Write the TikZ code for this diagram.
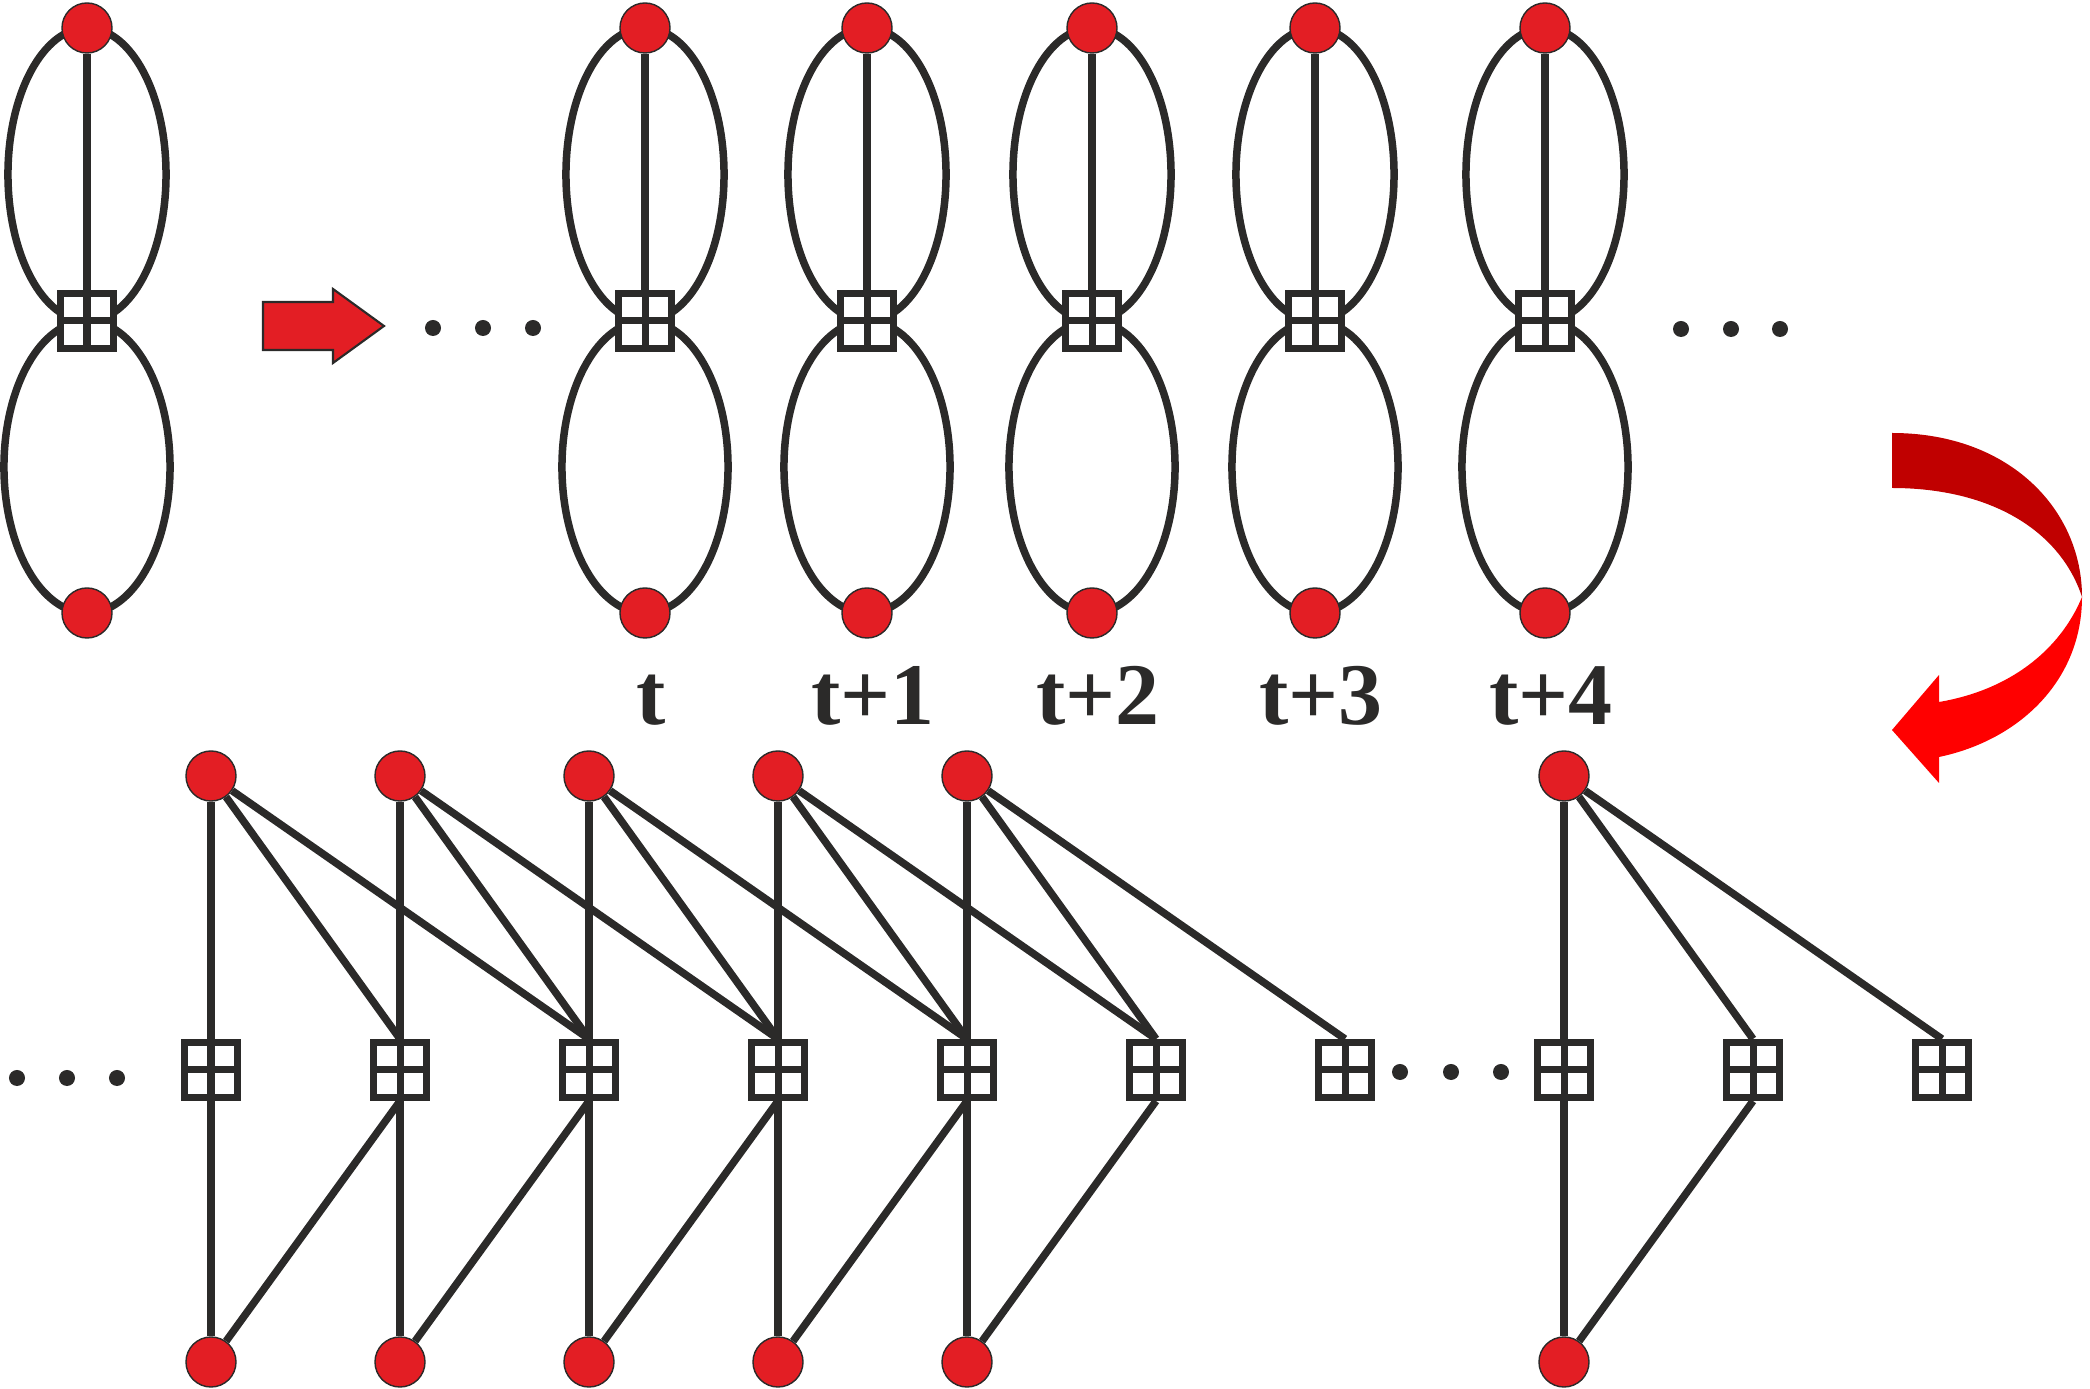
\documentclass[tikz,border=0pt]{standalone}
\usepackage{fontspec}
\setmainfont{Liberation Serif}
\usetikzlibrary{calc,backgrounds}

\definecolor{ink}{RGB}{43,42,41}
\definecolor{nodered}{RGB}{227,30,36}
\definecolor{darkred}{RGB}{192,0,0}
\definecolor{lightred}{RGB}{255,0,0}

\tikzset{
  vtx/.style={circle,draw=ink,line width=0.4pt,fill=nodered,minimum size=0.5cm,inner sep=0pt},
  gate/.style={draw=ink,fill=white,line width=0.07cm,minimum width=0.53cm,minimum height=0.55cm,inner sep=0pt,
    path picture={\draw[ink,line width=0.07cm] (path picture bounding box.north) -- (path picture bounding box.south)
      (path picture bounding box.west) -- (path picture bounding box.east);}},
  edge/.style={draw=ink,line width=0.075cm},
  lab/.style={font=\bfseries\fontsize{25}{30}\selectfont,text=ink,anchor=base,inner sep=0pt},
  dot/.style={circle,fill=ink,minimum size=0.16cm,inner sep=0pt}
}

\begin{document}
\begin{tikzpicture}[line cap=butt,line join=miter,x=0.01cm,y=-0.01cm]
\useasboundingbox (0,0) rectangle (2090,1389);
% folded graph
\node[vtx] (tL) at (87,28) {};
\node[gate] (gL) at (87,321) {};
\node[vtx] (bL) at (87,613) {};
% unfolding arrow
\draw[ink,line width=0.6pt,fill=nodered] (263,302) -- (333,302) -- (333,289) -- (384,326)
  -- (333,363) -- (333,350) -- (263,350) -- cycle;
\node[dot] (da1) at (433,328) {};
\node[dot] (da2) at (483,328) {};
\node[dot] (da3) at (533,328) {};
% time slices
\foreach \x/\n/\t in {645/0/t,867/1/t+1,1092/2/t+2,1315/3/t+3,1545/4/t+4} {
  \node[vtx] (t\n) at (\x,28) {};
  \node[gate] (g\n) at (\x,321) {};
  \node[vtx] (b\n) at (\x,613) {};
  \node[lab] (l\n) at ($(b\n)+(6,112)$) {\t};
}
\node[dot] (db1) at (1681,329) {};
\node[dot] (db2) at (1731,329) {};
\node[dot] (db3) at (1780,329) {};
\begin{scope}[on background layer]
\foreach \n in {L,0,1,2,3,4} {
  \draw[edge] ($(t\n)!0.5!(g\n)$) ellipse [x radius=0.79cm,y radius=1.465cm];
  \draw[edge] ($(g\n)!0.5!(b\n)$) ellipse [x radius=0.83cm,y radius=1.46cm];
  \draw[edge] (t\n) -- (g\n);
}
\end{scope}
% turning arrow
\fill[darkred] (1892,433) .. controls (2010,433) and (2082,510) .. (2082,597)
  .. controls (2060,530) and (1990,488) .. (1892,488) -- cycle;
\fill[lightred] (2082,597) .. controls (2082,680) and (2020,740) .. (1939,757)
  -- (1939,783) -- (1892,730) -- (1939,675) -- (1939,702)
  .. controls (2010,690) and (2060,650) .. (2082,597) -- cycle;
% unrolled graph
\foreach \x [count=\i] in {211,400,589,778,967,1156,1345,1564,1753,1942}
  \node[gate] (q\i) at (\x,1070) {};
\foreach \i in {1,...,5,8} {
  \node[vtx] (u\i) at ($(q\i)+(0,-294)$) {};
  \node[vtx] (d\i) at ($(q\i)+(0,292)$) {};
}
\node[dot] (dc1) at (17,1078) {};
\node[dot] (dc2) at (67,1078) {};
\node[dot] (dc3) at (117,1078) {};
\node[dot] (dd1) at (1400,1072) {};
\node[dot] (dd2) at (1451,1072) {};
\node[dot] (dd3) at (1501,1072) {};
\begin{scope}[on background layer]
\foreach \i in {1,...,5,8} {
  \pgfmathtruncatemacro\j{\i+1}
  \pgfmathtruncatemacro\k{\i+2}
  \draw[edge] (u\i) -- (d\i);
  \draw[edge] (u\i) -- (q\j.north);
  \draw[edge] (u\i) -- (q\k.north);
  \draw[edge] (d\i) -- (q\j.south);
}
\end{scope}
\end{tikzpicture}
\end{document}
